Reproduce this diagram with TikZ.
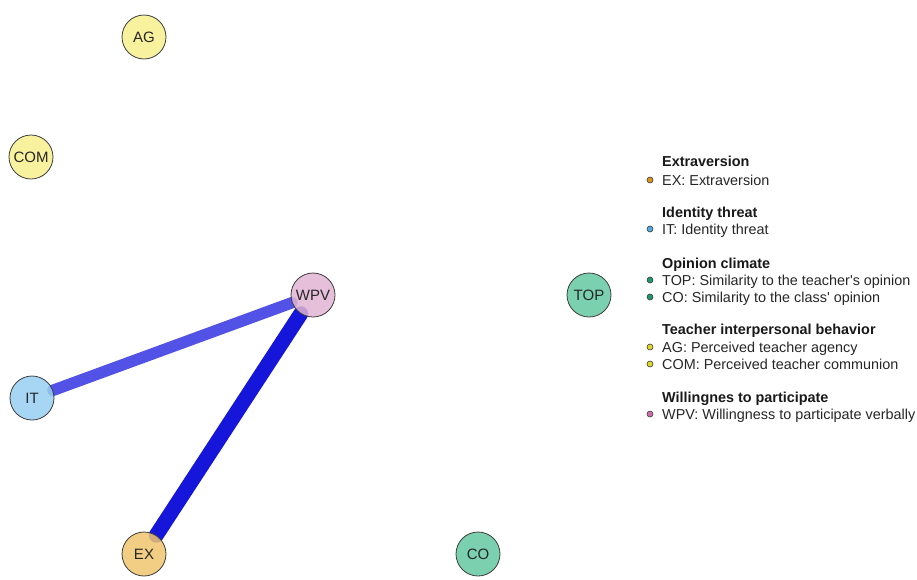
\documentclass[tikz,border=0pt]{standalone}
\usepackage{fontspec}
\setmainfont{Liberation Sans}[Ligatures=TeXOff]
\usetikzlibrary{backgrounds}

\definecolor{cYellow}{RGB}{247,238,140}
\definecolor{cPink}{RGB}{226,180,212}
\definecolor{cBlue}{RGB}{150,207,242}
\definecolor{cOrange}{RGB}{240,198,110}
\definecolor{cGreen}{RGB}{100,200,162}
\definecolor{edgeA}{RGB}{82,82,230}
\definecolor{edgeB}{RGB}{22,22,218}
\definecolor{rimgray}{RGB}{60,60,60}
\definecolor{dotYellow}{RGB}{225,215,40}
\definecolor{dotOrange}{RGB}{215,150,30}
\definecolor{dotBlue}{RGB}{80,170,220}
\definecolor{dotGreen}{RGB}{30,150,110}
\definecolor{dotPink}{RGB}{205,110,170}

\tikzset{
  vnode/.style={circle, draw=rimgray, line width=0.8pt, minimum size=44pt,
    inner sep=0pt, fill opacity=0.85, text opacity=1, text=black!85,
    font=\fontsize{15}{15}\selectfont},
  wedge/.style={line cap=round},
  legtitle/.style={anchor=west, inner sep=0pt, text height=10pt, text depth=0pt,
    font=\fontsize{14.4}{14.4}\selectfont\bfseries, text=black!90},
  legitem/.style={anchor=west, inner sep=0pt, text height=10pt, text depth=0pt,
    font=\fontsize{14.4}{14.4}\selectfont, text=black!85},
  legdot/.style={circle, draw=rimgray, line width=0.6pt, minimum size=6pt, inner sep=0pt}
}

\begin{document}
\begin{tikzpicture}[x=1pt,y=-1pt]
\useasboundingbox (0,0) rectangle (917,579);

% variables
\node[vnode, fill=cYellow] (AG)  at (144,37)  {AG};
\node[vnode, fill=cYellow] (COM) at (31,157)  {COM};
\node[vnode, fill=cPink]   (WPV) at (313,295) {WPV};
\node[vnode, fill=cBlue]   (IT)  at (32,398)  {IT};
\node[vnode, fill=cOrange] (EX)  at (144,554) {EX};
\node[vnode, fill=cGreen]  (CO)  at (478,554) {CO};
\node[vnode, fill=cGreen]  (TOP) at (589,295) {TOP};

% edges, underneath the nodes
\begin{scope}[on background layer]
  \draw[wedge, edgeA, line width=11.5pt] (IT) -- (WPV);
  \draw[wedge, edgeB, line width=15pt] (EX) -- (WPV);
\end{scope}

% legend
\node[legtitle] (l1) at (662,161) {Extraversion};
\node[legdot, fill=dotOrange] (d1) at (650,180) {};
\node[legitem] (t1) at (662,180) {EX: Extraversion};

\node[legtitle] (l2) at (662,212) {Identity threat};
\node[legdot, fill=dotBlue] (d2) at (650,229) {};
\node[legitem] (t2) at (662,229) {IT: Identity threat};

\node[legtitle] (l3) at (662,263) {Opinion climate};
\node[legdot, fill=dotGreen] (d3) at (650,280) {};
\node[legitem] (t3) at (662,280) {TOP: Similarity to the teacher's opinion};
\node[legdot, fill=dotGreen] (d4) at (650,297) {};
\node[legitem] (t4) at (662,297) {CO: Similarity to the class' opinion};

\node[legtitle] (l4) at (662,329) {Teacher interpersonal behavior};
\node[legdot, fill=dotYellow] (d5) at (650,347) {};
\node[legitem] (t5) at (662,347) {AG: Perceived teacher agency};
\node[legdot, fill=dotYellow] (d6) at (650,364) {};
\node[legitem] (t6) at (662,364) {COM: Perceived teacher communion};

\node[legtitle] (l5) at (662,397) {Willingnes to participate};
\node[legdot, fill=dotPink] (d7) at (650,414) {};
\node[legitem] (t7) at (662,414) {WPV: Willingness to participate verbally};
\end{tikzpicture}
\end{document}
